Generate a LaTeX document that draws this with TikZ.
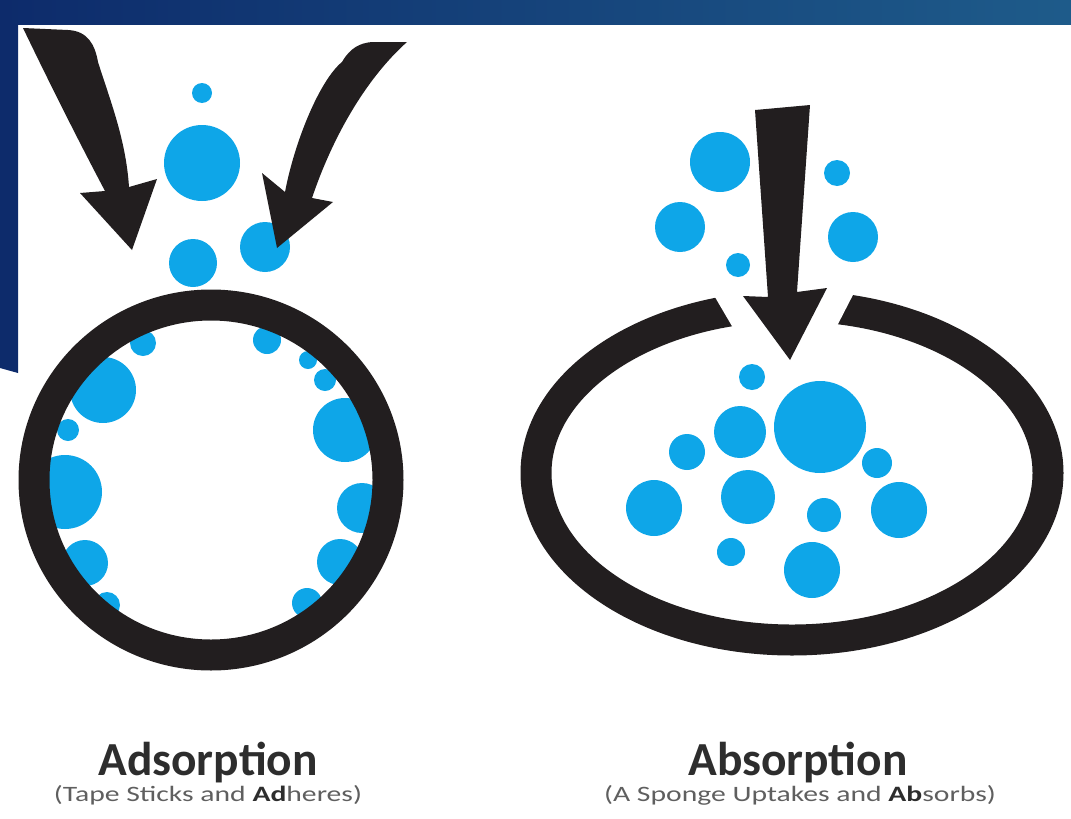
\documentclass[tikz,border=0pt]{standalone}
\usepackage{fontspec}
\setmainfont{Carlito}
\usepackage{graphicx}
\usepackage{xcolor}
\usepackage{tikz}
\usetikzlibrary{positioning}
\definecolor{navy}{RGB}{13,43,107}
\definecolor{bandright}{RGB}{30,91,138}
\definecolor{ink}{RGB}{34,30,31}
\definecolor{water}{RGB}{14,166,232}
\definecolor{textdark}{RGB}{45,45,45}
\definecolor{textgray}{RGB}{95,95,95}
\tikzset{%
	blob/.style     = {fill=water},
	ring/.style     = {draw=ink, line width=0.62cm},
	heading/.style  = {anchor=base, inner sep=0pt, text=textdark, font=\bfseries\fontsize{27}{30}\selectfont},
	subtitle/.style = {anchor=base, inner sep=0pt, text=textgray, font=\fontsize{12.5}{14}\selectfont},
}
\newcommand{\wide}[1]{\scalebox{1.35}[1]{#1}}
\newcommand{\dark}[1]{\textcolor{textdark}{\textbf{#1}}}

\begin{document}
\begin{tikzpicture}[x=0.02cm,y=-0.02cm]
		\useasboundingbox (0,0) rectangle (1071,818);
		% slide background
		\shade[left color=navy, right color=bandright] (0,0) rectangle (1071,24);
		\fill[navy] (0,23) -- (18,23) -- (18,373) -- (0,368) -- cycle;
		
		% adsorption: drops above the ring
		\foreach \x/\y/\r in {202/93/10, 202/163/38, 193/263/24, 265/247/25} \fill[blob] (\x,\y) circle (\r);
		% drops stuck to the inner wall
		\foreach \x/\y/\r in {143/343/13, 103/390/33, 68/430/11, 65/492/37, 85/563/23, 107/605/13,
			267/340/14, 308/360/9, 325/380/11, 345/430/32, 362/508/25, 340/562/23, 307/603/15} \fill[blob] (\x,\y) circle (\r);
		\draw[ring] (211,480) ellipse [x radius=177, y radius=175];
		
		\fill[ink] (23,28) -- (68,30) .. controls (88,31) and (95,45) .. (98,62) .. controls (110,100) and (126,140) .. (129,187) -- (157,179) -- (132,250) -- (80,193) -- (105,191) .. controls (78,140) and (48,80) .. (23,28) -- cycle;
		\fill[ink] (407,42) .. controls (370,75) and (335,130) .. (312,198) -- (333,202) -- (277,248) -- (262,173) -- (285,192) .. controls (295,140) and (320,80) .. (342,62) .. controls (350,48) and (360,43) .. (372,42) -- cycle;
		
		% absorption: drops above and inside the open ring
		\foreach \x/\y/\r in {720/162/30, 680/227/25, 738/265/12, 837/173/13, 853/237/25} \fill[blob] (\x,\y) circle (\r);
		\foreach \x/\y/\r in {752/377/13, 820/427/46, 740/432/26, 687/452/18, 877/463/15, 654/508/28,
			748/497/27, 824/515/17, 899/510/28, 731/552/14, 812/570/28} \fill[blob] (\x,\y) circle (\r);
		\draw[ring] (792,473) ellipse [x radius=256, y radius=167];
		\fill[white] (712,292) -- (736,333) -- (837,326) -- (856,289) -- cycle;
		
		\fill[ink] (755,110) -- (810,105) -- (797,292) -- (827,288) -- (790,360) -- (743,296) -- (768,297) -- cycle;
		
		% labels
		\node[heading] (adsHead) at (208,775) {Adsorption};
		\node[subtitle] (adsSub) at (208,801) {\wide{(Tape Sticks and \dark{Ad}heres)}};
		\node[heading] (absHead) at (798,775) {Absorption};
		\node[subtitle] (absSub) at (800,801) {\wide{(A Sponge Uptakes and \dark{Ab}sorbs)}};
\end{tikzpicture}
\end{document}
